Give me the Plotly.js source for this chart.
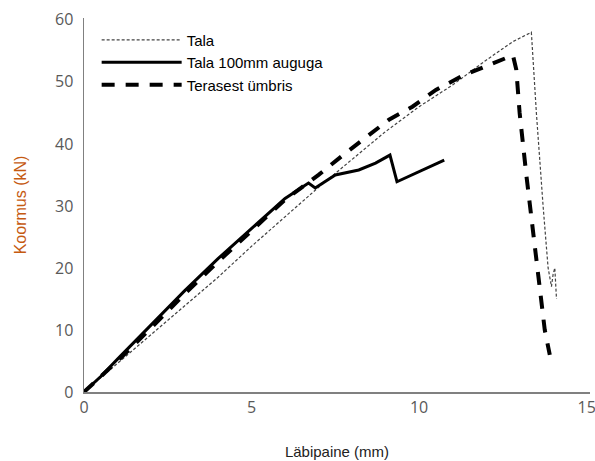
<!DOCTYPE html>
<html>
<head>
<meta charset="utf-8">
<script src="https://cdn.plot.ly/plotly-3.0.1.min.js"></script>
<style>html,body{margin:0;padding:0;background:#fff;}#chart{width:595px;height:461px;}</style>
</head>
<body>
<div id="chart"></div>
<script>
// Tala
const talaX = [0, 1, 2, 3, 4, 5, 6, 7, 8, 9, 10, 11, 12, 12.8, 13.35, 13.5, 13.7, 13.85, 13.95, 14.0, 14.05, 14.1];
const talaY = [0, 4.6, 9.2, 13.8, 18.5, 23.5, 28.3, 33, 37.5, 42, 46, 49.5, 53.5, 56.5, 58, 45, 30, 20, 17, 19, 20, 15];
// Tala 100mm auguga
const aukX = [0, 0.5, 1, 2, 3, 4, 5, 5.5, 6, 6.7, 6.9, 7.5, 8.2, 8.7, 9.13, 9.34, 10.0, 10.75];
const aukY = [0, 2.5, 5.3, 10.8, 16.3, 21.5, 26.3, 28.8, 31.2, 33.7, 32.9, 35, 35.8, 36.9, 38.2, 33.9, 35.5, 37.4];
// Terasest ümbris
const terX = [0, 1, 2, 3, 4, 5, 6, 6.5, 7, 7.8, 8.4, 9.1, 9.8, 10.5, 11.3, 12.1, 12.8, 12.9, 13.0, 13.2, 13.4, 13.6, 13.75, 13.9];
const terY = [0, 5, 10.3, 15.8, 21, 26, 31, 33, 35, 38.5, 41, 43.9, 46, 48.7, 51, 52.7, 54.3, 52, 45, 35, 26, 16, 10, 6];

const names = ["Tala", "Tala 100mm auguga", "Terasest ümbris"];
const xTicks = [0, 5, 10, 15];
const yTicks = [0, 10, 20, 30, 40, 50, 60];

const traces = [
  {x: talaX, y: talaY, name: names[0], mode: "lines", line: {color: "#444", width: 1.2, dash: "3px,2px"}},
  {x: aukX, y: aukY, name: names[1], mode: "lines", line: {color: "#000", width: 3}},
  {x: terX, y: terY, name: names[2], mode: "lines", line: {color: "#000", width: 4, dash: "13px,11px"}}
];

const layout = {
  width: 595, height: 461,
  margin: {l: 84, r: 5, t: 18, b: 69},
  paper_bgcolor: "#fff", plot_bgcolor: "#fff",
  font: {family: "Liberation Sans, Arial, sans-serif", size: 14, color: "#595959"},
  showlegend: true,
  legend: {x: 0.025, y: 0.985, xanchor: "left", yanchor: "top", bgcolor: "rgba(255,255,255,0)",
           font: {size: 15, color: "#000"}, itemwidth: 80, tracegroupgap: 0},
  xaxis: {range: [0, 15.1], tickvals: xTicks, ticktext: xTicks.map(String), showgrid: false, zeroline: false,
          showline: true, linecolor: "#808080", linewidth: 1.5, ticks: "", ticklen: 0,
          ticklabeloverflow: "allow",
          tickfont: {family: "Open Sans, sans-serif", size: 16, color: "#595959"},
          title: {text: "Läbipaine (mm)", font: {size: 15, color: "#222"}, standoff: 30}},
  yaxis: {range: [0, 60.3], tickvals: yTicks, ticktext: yTicks.map(String), showgrid: false, zeroline: false,
          showline: true, linecolor: "#808080", linewidth: 1.5, ticks: "", ticklen: 0, ticklabelstandoff: 6,
          tickfont: {family: "Open Sans, sans-serif", size: 16, color: "#595959"},
          title: {text: "Koormus (kN)", font: {size: 16, color: "#c55a11"}, standoff: 24}}
};

Plotly.newPlot("chart", traces, layout, {displayModeBar: false, staticPlot: true});
</script>
</body>
</html>
